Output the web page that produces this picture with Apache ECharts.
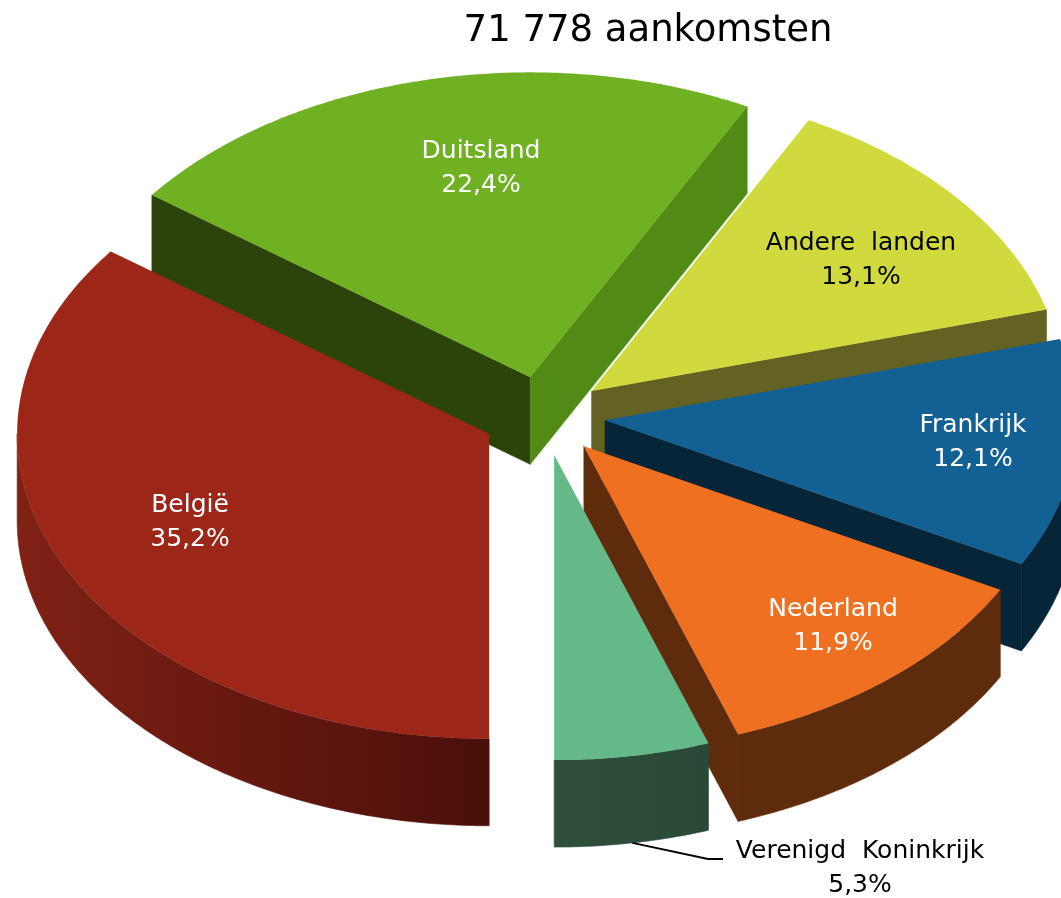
<!DOCTYPE html>
<html>
<head>
<meta charset="utf-8">
<script src="https://cdn.jsdelivr.net/npm/echarts@6/dist/echarts.min.js"></script>
<style>html,body{margin:0;padding:0;background:#fff}#c{width:1061px;height:898px}</style>
</head>
<body>
<div id="c"></div>
<script>
var titleText = '71 778 aankomsten';
var categories = ['België', 'Duitsland', 'Andere landen', 'Frankrijk', 'Nederland', 'Verenigd Koninkrijk'];
var shares = [35.2, 22.4, 13.1, 12.1, 11.9, 5.3];

// styling / layout, kept apart from the data
var topColors = ['#9c2718', '#6fb123', '#d0da3d', '#126094', '#ee7020', '#65b988'];
var startCutColors = ['#5e1710', '#2c440b', '#636222', '#062538', '#5e2b0d', '#2b4a36'];
var endCutColors = ['#5e1710', '#528a16', '#636222', '#062538', '#5e2b0d', '#2b4a36'];
var rimFrom = ['#802115', '#2c440b', '#636222', '#062538', '#5e2b0d', '#2f4f3b'];
var rimTo = ['#4a0f0a', '#2c440b', '#636222', '#062538', '#5e2b0d', '#2a4836'];
var labelColors = ['#fff', '#fff', '#000', '#fff', '#fff', '#000'];
var labelCenters = [[190, 522.5], [481, 168.5], [861, 260.5], [973, 442.5], [833, 626.5], [860, 868]];
var wordGaps = [1, 1, 2, 1, 1, 2];
var paintRank = [5, 0, 1, 2, 3, 4];
var CX = 544, CY = 416, RX = 472, RY = 305, DEPTH = 87, EXPLODE = 0.13, START_DEG = 180;
var FONT = '"DejaVu Sans", Verdana, sans-serif';
var leaderElbow = [[708, 859], [723, 859]];

function renderSlice(params, api) {
  var i = params.dataIndex;
  var total = shares.reduce(function (a, b) { return a + b; }, 0);
  var before = shares.slice(0, i).reduce(function (a, b) { return a + b; }, 0);
  var a0 = START_DEG + before / total * 360;
  var a1 = a0 + api.value(0) / total * 360;
  var mid = (a0 + a1) / 2;
  function dir(deg) {
    var r = deg * Math.PI / 180;
    return [Math.sin(r) * RX, -Math.cos(r) * RY];
  }
  var m = dir(mid);
  var ax = CX + m[0] * EXPLODE, ay = CY + m[1] * EXPLODE;
  function rimPt(deg, dy) {
    var d = dir(deg);
    return [ax + d[0], ay + d[1] + dy];
  }
  var base = paintRank[i] * 10;
  var children = [];
  function poly(points, fill, z, seal) {
    children.push({
      type: 'polygon', shape: { points: points },
      style: { fill: fill, stroke: seal ? fill : null, lineWidth: seal ? 0.6 : 0 },
      z2: base + z, silent: true
    });
  }
  function cut(deg, fill, z) {
    poly([[ax, ay], rimPt(deg, 0), rimPt(deg, DEPTH), [ax, ay + DEPTH]], fill, z, true);
  }
  if (Math.sin(a0 * Math.PI / 180) < -1e-6) cut(a0, startCutColors[i], 1);
  if (Math.sin(a1 * Math.PI / 180) > 1e-6) cut(a1, endCutColors[i], 1);

  // visible part of the outer wall: lower half of the ellipse (90..270 deg)
  var shifted = [[a0 + 360, a1 + 360], [a0, a1], [a0 - 360, a1 - 360]];
  shifted.forEach(function (s) {
    var lo = Math.max(s[0], 90), hi = Math.min(s[1], 270);
    if (hi <= lo) return;
    var up = [], down = [];
    for (var d = lo; d < hi; d += 0.5) { up.push(rimPt(d, 0)); down.unshift(rimPt(d, DEPTH)); }
    up.push(rimPt(hi, 0)); down.unshift(rimPt(hi, DEPTH));
    var grad = new echarts.graphic.LinearGradient(0, 0, 1, 0, [
      { offset: 0, color: rimFrom[i] }, { offset: 1, color: rimTo[i] }
    ]);
    poly(up.concat(down), grad, 2, true);
  });

  var top = [[ax, ay]];
  for (var d = a0; d < a1; d += 0.5) top.push(rimPt(d, 0));
  top.push(rimPt(a1, 0));
  poly(top, topColors[i], 3, false);

  var pct = api.value(0).toFixed(1).replace('.', ',') + '%';
  var shown = categories[i].replace(' ', new Array(wordGaps[i] + 1).join(' '));
  children.push({
    type: 'text', silent: true, z2: 100,
    style: {
      x: labelCenters[i][0], y: labelCenters[i][1],
      text: shown + '\n' + pct,
      fill: labelColors[i], font: '25px ' + FONT, lineHeight: 34,
      align: 'center', verticalAlign: 'middle'
    }
  });
  if (i === categories.length - 1) {
    var start = rimPt(mid, DEPTH);
    children.push({
      type: 'polyline', silent: true, z2: 99,
      shape: { points: [start].concat(leaderElbow) },
      style: { stroke: '#000', lineWidth: 2, fill: null }
    });
  }
  return { type: 'group', children: children };
}

var chart = echarts.init(document.getElementById('c'), null, { renderer: 'canvas' });
chart.setOption({
  animation: false,
  backgroundColor: '#fff',
  title: {
    text: titleText, left: 643, top: 8, textAlign: 'center',
    textStyle: { fontFamily: FONT, fontSize: 37, fontWeight: 'normal', color: '#000' }
  },
  series: [{
    type: 'custom',
    coordinateSystem: 'none',
    clip: false,
    silent: true,
    renderItem: renderSlice,
    data: categories.map(function (c, i) { return { name: c, value: [shares[i]] }; })
  }]
});
</script>
</body>
</html>
